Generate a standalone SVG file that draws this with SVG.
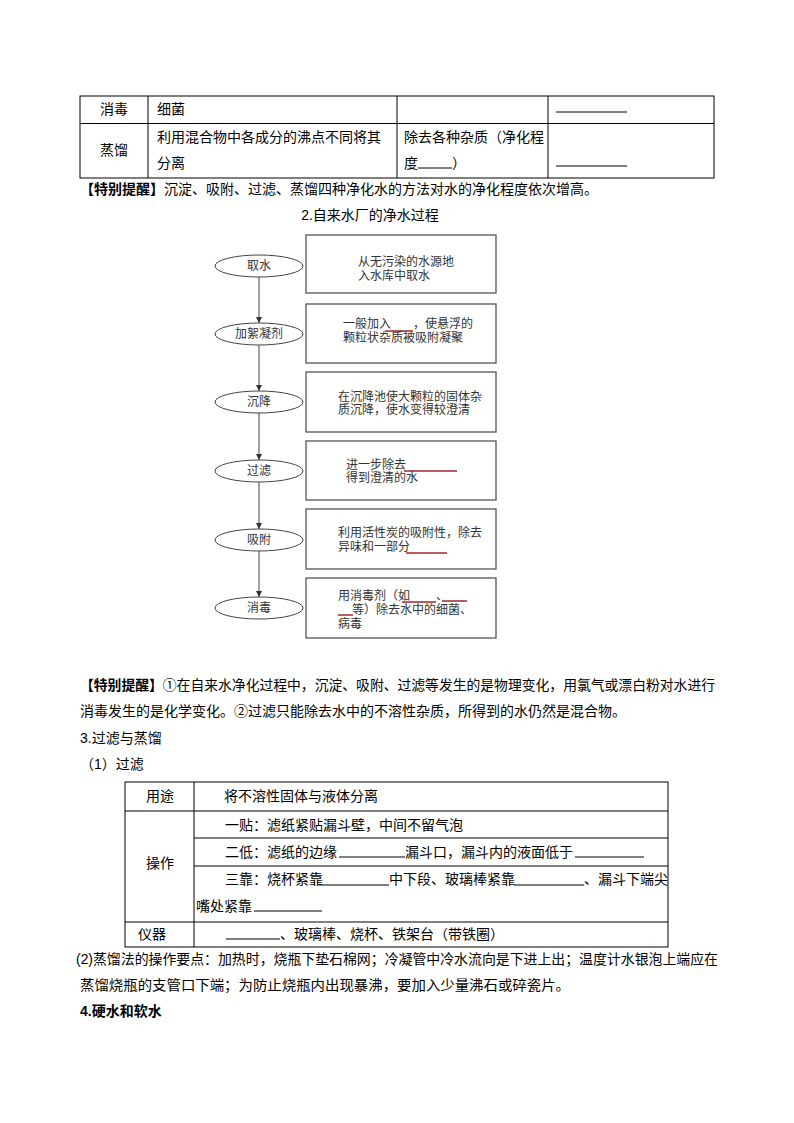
<svg xmlns="http://www.w3.org/2000/svg" width="794" height="1123" viewBox="0 0 794 1123">
<defs>
<style>
.t{font-family:"Liberation Sans","Noto Sans CJK SC",sans-serif;font-size:14px;fill:#000}
.b{font-weight:bold}
.f{font-family:"Liberation Serif","Noto Sans CJK SC",serif;font-size:12px;fill:#333}
.tb{fill:none;stroke:#000;stroke-width:1}
.ul{stroke:#000;stroke-width:1}
.ru{stroke:#a3262a;stroke-width:1.5}
.box{fill:#fff;stroke:#555;stroke-width:1.3}
.ell{fill:#fff;stroke:#444;stroke-width:1}
.conn{stroke:#444;stroke-width:1;fill:none}
</style>
<marker id="ah" markerWidth="6" markerHeight="6" refX="6" refY="3" orient="auto" markerUnits="userSpaceOnUse">
<path d="M0,0 L6,3 L0,6 z" fill="#333"/>
</marker>
</defs>
<rect width="794" height="1123" fill="#fff"/>

<!-- top table -->
<g id="top-table">
<rect class="tb" x="80" y="96" width="634" height="82"/>
<line class="tb" x1="80" y1="123.5" x2="714" y2="123.5"/>
<line class="tb" x1="148" y1="96" x2="148" y2="178"/>
<line class="tb" x1="397" y1="96" x2="397" y2="178"/>
<line class="tb" x1="548" y1="96" x2="548" y2="178"/>
<text class="t" x="114" y="114" text-anchor="middle">消毒</text>
<text class="t" x="157" y="114">细菌</text>
<line class="ul" x1="556" y1="112" x2="627" y2="112"/>
<text class="t" x="114" y="155" text-anchor="middle">蒸馏</text>
<text class="t" x="157" y="142">利用混合物中各成分的沸点不同将其</text>
<text class="t" x="157" y="168">分离</text>
<text class="t" x="404" y="142">除去各种杂质（净化程</text>
<text class="t" x="404" y="168">度</text>
<line class="ul" x1="418" y1="168" x2="452" y2="168"/>
<text class="t" x="452" y="168">）</text>
<line class="ul" x1="556" y1="166" x2="627" y2="166"/>
</g>

<text class="t" x="80" y="194"><tspan class="b">【特别提醒】</tspan>沉淀、吸附、过滤、蒸馏四种净化水的方法对水的净化程度依次增高。</text>

<text class="t" x="370" y="220" text-anchor="middle">2.自来水厂的净水过程</text>

<!-- connectors -->
<g id="connectors">
<line class="conn" x1="259" y1="277" x2="259" y2="323" marker-end="url(#ah)"/>
<line class="conn" x1="259" y1="345" x2="259" y2="391" marker-end="url(#ah)"/>
<line class="conn" x1="259" y1="413" x2="259" y2="460" marker-end="url(#ah)"/>
<line class="conn" x1="259" y1="482" x2="259" y2="529" marker-end="url(#ah)"/>
<line class="conn" x1="259" y1="551" x2="259" y2="597" marker-end="url(#ah)"/>
</g>

<!-- flow nodes -->
<g id="n1"><ellipse class="ell" cx="259" cy="266" rx="44" ry="11"/><text class="f" x="259" y="270" text-anchor="middle">取水</text></g>
<g id="n2"><ellipse class="ell" cx="259" cy="334" rx="44" ry="11"/><text class="f" x="259" y="338" text-anchor="middle">加絮凝剂</text></g>
<g id="n3"><ellipse class="ell" cx="259" cy="402" rx="44" ry="11"/><text class="f" x="259" y="406" text-anchor="middle">沉降</text></g>
<g id="n4"><ellipse class="ell" cx="259" cy="471" rx="44" ry="11"/><text class="f" x="259" y="475" text-anchor="middle">过滤</text></g>
<g id="n5"><ellipse class="ell" cx="259" cy="540" rx="44" ry="11"/><text class="f" x="259" y="544" text-anchor="middle">吸附</text></g>
<g id="n6"><ellipse class="ell" cx="259" cy="608" rx="44" ry="11"/><text class="f" x="259" y="612" text-anchor="middle">消毒</text></g>

<g id="b1"><rect class="box" x="306" y="235" width="190" height="58"/>
<text class="f" x="358" y="266">从无污染的水源地</text>
<text class="f" x="358" y="280">入水库中取水</text></g>

<g id="b2"><rect class="box" x="306" y="304" width="190" height="59"/>
<text class="f" x="343" y="328">一般加入</text>
<line class="ru" x1="385" y1="331" x2="413" y2="331"/>
<text class="f" x="413" y="328">，使悬浮的</text>
<text class="f" x="343" y="342">颗粒状杂质被吸附凝聚</text></g>

<g id="b3"><rect class="box" x="306" y="372" width="190" height="60"/>
<text class="f" x="338" y="401">在沉降池使大颗粒的固体杂</text>
<text class="f" x="338" y="414">质沉降，使水变得较澄清</text></g>

<g id="b4"><rect class="box" x="306" y="441" width="190" height="59"/>
<text class="f" x="346" y="469">进一步除去</text>
<line class="ru" x1="404" y1="471" x2="457" y2="471"/>
<text class="f" x="346" y="482">得到澄清的水</text></g>

<g id="b5"><rect class="box" x="306" y="509" width="190" height="60"/>
<text class="f" x="338" y="537">利用活性炭的吸附性，除去</text>
<text class="f" x="338" y="551">异味和一部分</text>
<line class="ru" x1="406" y1="553" x2="447" y2="553"/></g>

<g id="b6"><rect class="box" x="306" y="578" width="190" height="60"/>
<text class="f" x="338" y="600">用消毒剂（如</text>
<line class="ru" x1="402" y1="602" x2="436" y2="602"/>
<text class="f" x="436" y="600">、</text>
<line class="ru" x1="442" y1="601" x2="467" y2="601"/>
<line class="ru" x1="338" y1="615" x2="353" y2="615"/>
<text class="f" x="352" y="614">等）除去水中的细菌、</text>
<text class="f" x="338" y="628">病毒</text></g>

<!-- notes -->
<text class="t" x="80" y="690" textLength="635" lengthAdjust="spacingAndGlyphs"><tspan class="b">【特别提醒】</tspan>①在自来水净化过程中，沉淀、吸附、过滤等发生的是物理变化，用氯气或漂白粉对水进行</text>
<text class="t" x="80" y="716">消毒发生的是化学变化。②过滤只能除去水中的不溶性杂质，所得到的水仍然是混合物。</text>
<text class="t" x="80" y="743">3.过滤与蒸馏</text>
<text class="t" x="80" y="769">（1）过滤</text>

<!-- filtration table -->
<g id="filter-table">
<rect class="tb" x="125" y="782" width="543" height="165"/>
<line class="tb" x1="194" y1="782" x2="194" y2="947"/>
<line class="tb" x1="125" y1="811" x2="668" y2="811"/>
<line class="tb" x1="194" y1="838" x2="668" y2="838"/>
<line class="tb" x1="194" y1="866" x2="668" y2="866"/>
<line class="tb" x1="125" y1="922" x2="668" y2="922"/>
<text class="t" x="160" y="801" text-anchor="middle">用途</text>
<text class="t" x="224" y="801">将不溶性固体与液体分离</text>
<text class="t" x="160" y="868" text-anchor="middle">操作</text>
<text class="t" x="225" y="830">一贴：滤纸紧贴漏斗壁，中间不留气泡</text>
<text class="t" x="225" y="857">二低：滤纸的边缘</text>
<line class="ul" x1="339" y1="857" x2="405" y2="857"/>
<text class="t" x="405" y="857">漏斗口，漏斗内的液面低于</text>
<line class="ul" x1="575" y1="857" x2="644" y2="857"/>
<text class="t" x="225" y="884">三靠：烧杯紧靠</text>
<line class="ul" x1="319" y1="885" x2="389" y2="885"/>
<text class="t" x="389" y="884">中下段、玻璃棒紧靠</text>
<line class="ul" x1="514" y1="885" x2="584" y2="885"/>
<text class="t" x="584" y="884" textLength="84" lengthAdjust="spacingAndGlyphs">、漏斗下端尖</text>
<text class="t" x="196" y="911">嘴处紧靠</text>
<line class="ul" x1="254" y1="911" x2="322" y2="911"/>
<text class="t" x="152" y="939" text-anchor="middle">仪器</text>
<line class="ul" x1="226" y1="939" x2="280" y2="939"/>
<text class="t" x="280" y="939">、玻璃棒、烧杯、铁架台（带铁圈）</text>
</g>

<text class="t" x="76" y="964" textLength="642" lengthAdjust="spacingAndGlyphs">(2)蒸馏法的操作要点：加热时，烧瓶下垫石棉网；冷凝管中冷水流向是下进上出；温度计水银泡上端应在</text>
<text class="t" x="80" y="990" textLength="490" lengthAdjust="spacingAndGlyphs">蒸馏烧瓶的支管口下端；为防止烧瓶内出现暴沸，要加入少量沸石或碎瓷片。</text>
<text class="t b" x="80" y="1016">4.硬水和软水</text>
</svg>
